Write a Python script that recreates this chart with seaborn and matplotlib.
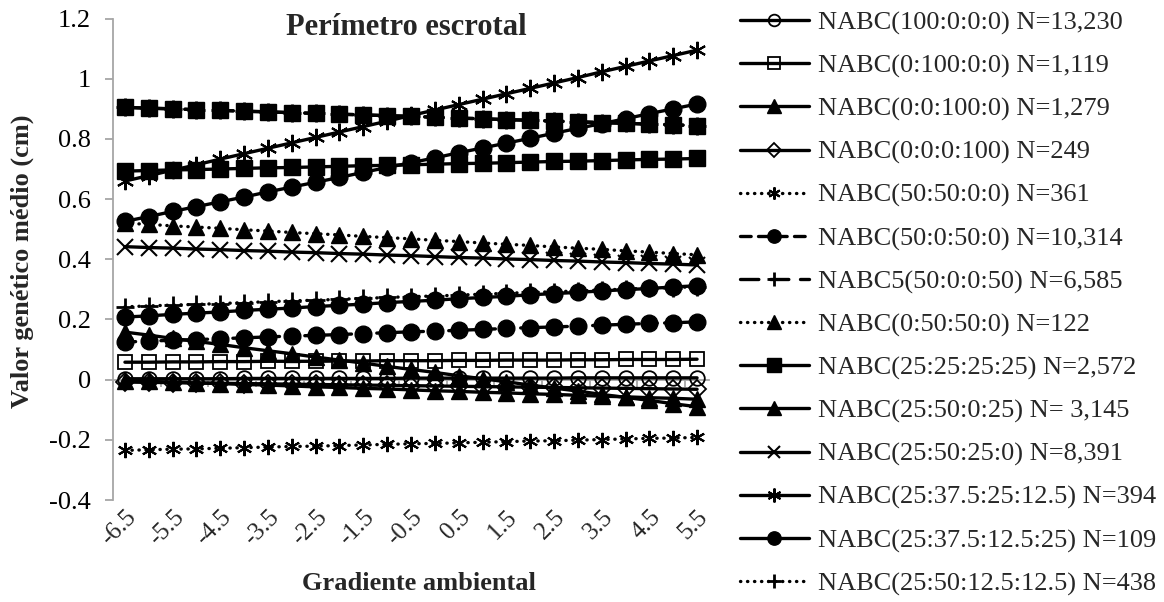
import matplotlib
matplotlib.use("Agg")
import matplotlib.pyplot as plt
import pandas as pd
import seaborn as sns

# Environmental gradient (x) and mean genetic values (cm) per breed composition
gradiente = [-6.5, -6.0, -5.5, -5.0, -4.5, -4.0, -3.5, -3.0, -2.5, -2.0, -1.5, -1.0, -0.5,
             0.0, 0.5, 1.0, 1.5, 2.0, 2.5, 3.0, 3.5, 4.0, 4.5, 5.0, 5.5]
rotulos_x = ["-6.5", "-5.5", "-4.5", "-3.5", "-2.5", "-1.5", "-0.5", "0.5", "1.5", "2.5", "3.5", "4.5", "5.5"]

nabc_100_0_0_0 = [0.003, 0.003, 0.003, 0.003, 0.003, 0.004, 0.004, 0.004, 0.004, 0.004, 0.004, 0.004, 0.005,
                  0.005, 0.005, 0.005, 0.005, 0.005, 0.005, 0.006, 0.006, 0.006, 0.006, 0.006, 0.006]
nabc_0_100_0_0 = [0.058, 0.058, 0.059, 0.059, 0.060, 0.060, 0.061, 0.061, 0.061, 0.062, 0.062, 0.063, 0.063,
                  0.063, 0.064, 0.064, 0.065, 0.065, 0.065, 0.066, 0.066, 0.067, 0.067, 0.067, 0.068]
nabc_0_0_100_0 = [0.158, 0.148, 0.137, 0.127, 0.117, 0.106, 0.096, 0.086, 0.075, 0.065, 0.055, 0.044, 0.034,
                  0.024, 0.013, 0.003, -0.007, -0.018, -0.028, -0.038, -0.049, -0.059, -0.069, -0.080, -0.090]
nabc_0_0_0_100 = [-0.008, -0.009, -0.010, -0.011, -0.012, -0.013, -0.014, -0.015, -0.016, -0.017, -0.018, -0.019, -0.020,
                  -0.021, -0.022, -0.023, -0.024, -0.025, -0.026, -0.027, -0.028, -0.029, -0.030, -0.031, -0.032]
nabc_50_50_0_0 = [-0.235, -0.233, -0.231, -0.230, -0.228, -0.226, -0.224, -0.222, -0.221, -0.219, -0.217, -0.215, -0.213,
                  -0.212, -0.210, -0.208, -0.206, -0.204, -0.203, -0.201, -0.199, -0.197, -0.195, -0.194, -0.192]
nabc_50_0_50_0 = [0.125, 0.128, 0.131, 0.133, 0.136, 0.139, 0.142, 0.145, 0.147, 0.150, 0.153, 0.156, 0.159,
                  0.161, 0.164, 0.167, 0.170, 0.173, 0.175, 0.178, 0.181, 0.184, 0.187, 0.189, 0.192]
nabc5_50_0_0_50 = [0.905, 0.902, 0.900, 0.897, 0.895, 0.892, 0.890, 0.887, 0.885, 0.882, 0.880, 0.877, 0.875,
                   0.872, 0.869, 0.867, 0.864, 0.862, 0.859, 0.857, 0.854, 0.852, 0.849, 0.847, 0.844]
nabc_0_50_50_0 = [0.520, 0.516, 0.511, 0.507, 0.503, 0.498, 0.494, 0.489, 0.485, 0.481, 0.476, 0.472, 0.468,
                  0.463, 0.459, 0.454, 0.450, 0.446, 0.441, 0.437, 0.433, 0.428, 0.424, 0.419, 0.415]
nabc_25_25_25_25 = [0.693, 0.695, 0.697, 0.698, 0.700, 0.702, 0.704, 0.705, 0.707, 0.709, 0.711, 0.712, 0.714,
                    0.716, 0.718, 0.719, 0.721, 0.723, 0.725, 0.726, 0.728, 0.730, 0.732, 0.733, 0.735]
nabc_25_50_0_25 = [-0.003, -0.006, -0.008, -0.011, -0.013, -0.016, -0.018, -0.021, -0.024, -0.026, -0.029, -0.031, -0.034,
                   -0.037, -0.039, -0.042, -0.044, -0.047, -0.049, -0.052, -0.055, -0.057, -0.060, -0.062, -0.065]
nabc_25_50_25_0 = [0.442, 0.439, 0.437, 0.434, 0.432, 0.429, 0.427, 0.424, 0.422, 0.419, 0.417, 0.414, 0.412,
                   0.409, 0.406, 0.404, 0.401, 0.399, 0.396, 0.394, 0.391, 0.389, 0.386, 0.384, 0.381]
nabc_25_375_25_125 = [0.660, 0.678, 0.696, 0.714, 0.733, 0.751, 0.769, 0.787, 0.805, 0.823, 0.841, 0.859, 0.878,
                      0.896, 0.914, 0.932, 0.950, 0.968, 0.986, 1.004, 1.023, 1.041, 1.059, 1.077, 1.095]
nabc_25_375_125_25 = [0.526, 0.542, 0.559, 0.575, 0.591, 0.607, 0.624, 0.640, 0.656, 0.672, 0.689, 0.705, 0.721,
                      0.737, 0.754, 0.770, 0.786, 0.802, 0.819, 0.835, 0.851, 0.867, 0.884, 0.900, 0.916]
nabc_25_50_125_125 = [0.242, 0.245, 0.248, 0.250, 0.253, 0.256, 0.259, 0.262, 0.264, 0.267, 0.270, 0.273, 0.276,
                      0.278, 0.281, 0.284, 0.287, 0.290, 0.292, 0.295, 0.298, 0.301, 0.304, 0.306, 0.309]
# series plotted without a legend entry
extra_quadrado = [0.905, 0.902, 0.900, 0.897, 0.895, 0.892, 0.890, 0.887, 0.885, 0.882, 0.880, 0.877, 0.875,
                  0.872, 0.869, 0.867, 0.864, 0.862, 0.859, 0.857, 0.854, 0.852, 0.849, 0.847, 0.844]
extra_circulo = [0.208, 0.212, 0.217, 0.221, 0.225, 0.230, 0.234, 0.238, 0.243, 0.247, 0.251, 0.256, 0.260,
                 0.264, 0.269, 0.273, 0.277, 0.282, 0.286, 0.290, 0.295, 0.299, 0.303, 0.308, 0.312]
limites_x = [-6.75, -5.75, -4.75, -3.75, -2.75, -1.75, -0.75, 0.25, 1.25, 2.25, 3.25, 4.25, 5.25]

DOT = (0, (0.1, 2.0))
DASH = (0, (3.2, 2.2))
LDASH = (0, (5.5, 3.5))

series = [
    ("NABC(100:0:0:0) N=13,230", nabc_100_0_0_0, dict(marker="o", ms=10.5, mfc="none", mew=1.3, ls="-")),
    ("NABC(0:100:0:0) N=1,119", nabc_0_100_0_0, dict(marker="s", ms=10.5, mfc="none", mew=1.3, ls="-")),
    ("NABC(0:0:100:0) N=1,279", nabc_0_0_100_0, dict(marker="^", ms=12, mfc="black", mew=1, ls="-")),
    ("NABC(0:0:0:100) N=249", nabc_0_0_0_100, dict(marker="D", ms=9, mfc="none", mew=1.3, ls="-")),
    ("NABC(50:50:0:0) N=361", nabc_50_50_0_0, dict(marker=(6, 2, 0), ms=11, mfc="black", mew=1.5, ls=DOT)),
    ("NABC(50:0:50:0) N=10,314", nabc_50_0_50_0, dict(marker="o", ms=12, mfc="black", mew=1, ls=DASH)),
    ("NABC5(50:0:0:50) N=6,585", nabc5_50_0_0_50, dict(marker="+", ms=13, mfc="black", mew=2, ls=LDASH)),
    ("_sq", extra_quadrado, dict(marker="s", ms=12, mfc="black", mew=1, ls=LDASH)),
    ("NABC(0:50:50:0) N=122", nabc_0_50_50_0, dict(marker="^", ms=12, mfc="black", mew=1, ls=DOT)),
    ("NABC(25:25:25:25) N=2,572", nabc_25_25_25_25, dict(marker="s", ms=12, mfc="black", mew=1, ls="-")),
    ("NABC(25:50:0:25) N= 3,145", nabc_25_50_0_25, dict(marker="^", ms=12, mfc="black", mew=1, ls="-")),
    ("NABC(25:50:25:0) N=8,391", nabc_25_50_25_0, dict(marker="x", ms=11, mfc="black", mew=1.5, ls="-")),
    ("NABC(25:37.5:25:12.5) N=394", nabc_25_375_25_125, dict(marker=(6, 2, 0), ms=12.5, mfc="black", mew=1.5, ls="-")),
    ("NABC(25:37.5:12.5:25) N=109", nabc_25_375_125_25, dict(marker="o", ms=12, mfc="black", mew=1, ls="-")),
    ("_ci", extra_circulo, dict(marker="o", ms=12, mfc="black", mew=1, ls="-")),
    ("NABC(25:50:12.5:12.5) N=438", nabc_25_50_125_125, dict(marker="+", ms=13, mfc="black", mew=2, ls=DOT)),
]

sns.set_theme(style="white")
plt.rcParams["font.family"] = ["Liberation Serif", "DejaVu Serif"]

fig = plt.figure(figsize=(11.64, 6.02), dpi=100)
ax = fig.add_axes([0.0971, 0.1694, 0.512, 0.7998])

gray = "#A6A6A6"

for nome, valores, st in series:
    df = pd.DataFrame({"x": gradiente, "y": valores})
    sns.lineplot(data=df, x="x", y="y", ax=ax, color="black", errorbar=None,
                 label=nome, marker=st["marker"], markersize=st["ms"],
                 markerfacecolor=st["mfc"], markeredgecolor="black",
                 markeredgewidth=st["mew"], linestyle=st["ls"], linewidth=2.4,
                 dash_capstyle="round")

ax.set_xlim(-6.75, 5.75)
ax.set_ylim(-0.4, 1.2)
yt = [-0.4, -0.2, 0, 0.2, 0.4, 0.6, 0.8, 1.0, 1.2]
ax.set_yticks(yt, ["-0.4", "-0.2", "0", "0.2", "0.4", "0.6", "0.8", "1", "1.2"], fontsize=19)
ax.tick_params(axis="y", length=6, width=1.3, color=gray, pad=10, labelcolor="black", left=True)

# horizontal axis line crosses at zero, category labels stay at the bottom
for s in ["top", "right"]:
    ax.spines[s].set_visible(False)
ax.spines["bottom"].set_position(("data", 0))
for s in ["left", "bottom"]:
    ax.spines[s].set_color(gray)
    ax.spines[s].set_linewidth(1.3)
    ax.spines[s].set_zorder(0)
ax.set_xticks(limites_x, [""] * len(limites_x))
ax.tick_params(axis="x", bottom=True, length=5, width=1.3, color=gray, direction="out")

sec = ax.secondary_xaxis("bottom")
sec.set_xticks(gradiente[::2], rotulos_x, rotation=45, ha="right", va="top",
               rotation_mode="anchor", fontsize=18)
sec.tick_params(length=0, pad=4)
sec.spines["bottom"].set_visible(False)

ax.set_xlabel("")
ax.set_ylabel("")
fig.text(0.019, 0.566, "Valor genético médio (cm)", rotation=90, ha="center", va="center",
         fontsize=19, fontweight="bold")
fig.text(0.360, 0.02, "Gradiente ambiental", ha="center", va="baseline",
         fontsize=19, fontweight="bold")
fig.text(0.349, 0.942, "Perímetro escrotal", ha="center", va="baseline",
         fontsize=22, fontweight="bold")

handles, labels = ax.get_legend_handles_labels()
pares = [(h, l) for h, l in zip(handles, labels) if not l.startswith("_")]
ax.legend([p[0] for p in pares], [p[1] for p in pares], loc="upper left",
          bbox_to_anchor=(0.6357, 0.982), bbox_transform=fig.transFigure,
          frameon=False, fontsize=19, handlelength=2.6, handletextpad=0.35,
          labelspacing=0.73, borderpad=0, borderaxespad=0, markerscale=0.8)

fig.savefig("out.png", dpi=100)
